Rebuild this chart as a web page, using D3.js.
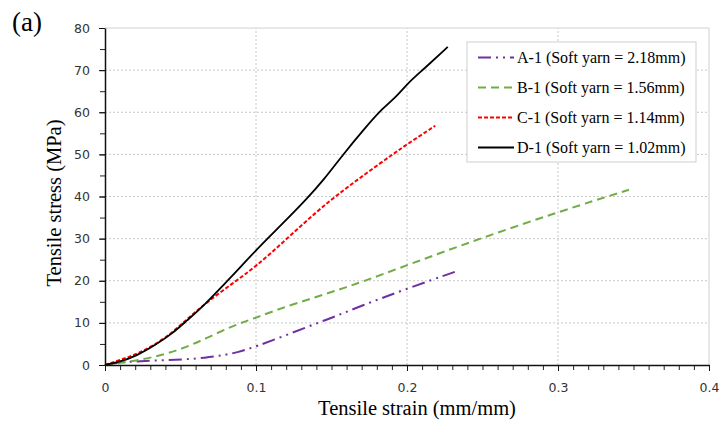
<!DOCTYPE html>
<html>
<head>
<meta charset="utf-8">
<script src="https://cdn.jsdelivr.net/npm/d3@7"></script>
<style>
  body { margin: 0; background: #fff; }
  svg { display: block; }
</style>
</head>
<body>
<script>
const w = 722;
const h = 423;
const margin = { top: 28, right: 12, bottom: 58, left: 105 };

// strain (mm/mm), stress (MPa)
const strainA = [0, 0.01, 0.03, 0.054, 0.066, 0.078, 0.088, 0.1, 0.118, 0.14, 0.151, 0.1685, 0.2005, 0.234];
const stressA = [0, 0.7, 1.0, 1.35, 1.7, 2.3, 3.0, 4.4, 6.8, 9.9, 11.3, 13.9, 18.2, 22.4];

const strainB = [0, 0.01, 0.03, 0.0496, 0.067, 0.085, 0.1, 0.118, 0.151, 0.1685, 0.2005, 0.2456, 0.3007, 0.347];
const stressB = [0, 0.5, 1.6, 3.6, 6.3, 9.4, 11.2, 13.7, 17.4, 19.5, 23.75, 29.7, 36.4, 41.6];

const strainC = [0, 0.01, 0.023, 0.041, 0.054, 0.067, 0.085, 0.1, 0.12, 0.14, 0.1575, 0.173, 0.1905, 0.2005, 0.2187];
const stressC = [0, 1.2, 2.8, 6.5, 10.8, 14.8, 19.5, 23.4, 29.8, 36.4, 41.4, 45.5, 50.0, 52.5, 56.8];

const strainD = [0, 0.01, 0.02, 0.034, 0.045, 0.054, 0.065, 0.085, 0.1, 0.118, 0.133, 0.145, 0.1575, 0.173, 0.184, 0.193, 0.2005, 0.21, 0.227];
const stressD = [0, 0.8, 2.0, 4.9, 7.6, 10.5, 13.9, 21.4, 27.3, 33.7, 39.2, 44.0, 49.9, 56.6, 61.0, 63.7, 66.9, 69.9, 75.5];

const seriesNames = [
	"A-1 (Soft yarn = 2.18mm)",
	"B-1 (Soft yarn = 1.56mm)",
	"C-1 (Soft yarn = 1.14mm)",
	"D-1 (Soft yarn = 1.02mm)"
];
const xTicks = [0, 0.1, 0.2, 0.3, 0.4];
const yTicks = [0, 10, 20, 30, 40, 50, 60, 70, 80];

const series = [
	{ name: seriesNames[0], x: strainA, y: stressA, color: "#7030a0", dash: "13,5,2,5,2,5", width: 2 },
	{ name: seriesNames[1], x: strainB, y: stressB, color: "#70ad47", dash: "8,5", width: 2 },
	{ name: seriesNames[2], x: strainC, y: stressC, color: "#ff0000", dash: "4,2", width: 2 },
	{ name: seriesNames[3], x: strainD, y: stressD, color: "#000000", dash: null, width: 1.8 }
];

const xScale = d3.scaleLinear().domain([0, 0.4]).range([margin.left, w - margin.right - 1]);
const yScale = d3.scaleLinear().domain([0, 80]).range([h - margin.bottom, margin.top]);

const svg = d3.select("body").append("svg").attr("width", w).attr("height", h);

// grid
svg.append("g")
	.selectAll("line")
	.data(xTicks.slice(1, -1))
	.join("line")
	.attr("x1", (d) => xScale(d)).attr("x2", (d) => xScale(d))
	.attr("y1", yScale(0)).attr("y2", yScale(80))
	.attr("stroke", "#c8c8c8").attr("stroke-dasharray", "2,2");

svg.append("g")
	.selectAll("line")
	.data(yTicks.slice(1, -1))
	.join("line")
	.attr("x1", xScale(0)).attr("x2", xScale(0.4))
	.attr("y1", (d) => yScale(d)).attr("y2", (d) => yScale(d))
	.attr("stroke", "#c8c8c8").attr("stroke-dasharray", "2,2");

// top / right frame
svg.append("path")
	.attr("d", `M${xScale(0)},${yScale(80)}H${xScale(0.4)}V${yScale(0)}`)
	.attr("fill", "none")
	.attr("stroke", "#d0d0d0");

// curves
const line = d3.line()
	.x((d) => xScale(d[0]))
	.y((d) => yScale(d[1]))
	.curve(d3.curveBasis);

series.forEach((s) => {
	svg.append("path")
		.datum(s.x.map((v, i) => [v, s.y[i]]))
		.attr("fill", "none")
		.attr("stroke", s.color)
		.attr("stroke-width", s.width)
		.attr("stroke-dasharray", s.dash)
		.attr("d", line);
});

// minor ticks
svg.append("g")
	.attr("transform", `translate(0, ${yScale(0)})`)
	.call(d3.axisBottom(xScale).tickValues(d3.range(0, 0.401, 0.01)).tickSize(5).tickFormat(""))
	.call((g) => g.select(".domain").remove())
	.selectAll("line").attr("stroke", "#222");

svg.append("g")
	.attr("transform", `translate(${xScale(0)}, 0)`)
	.call(d3.axisLeft(yScale).tickValues(d3.range(0, 81, 5)).tickSize(5).tickFormat(""))
	.call((g) => g.select(".domain").remove())
	.selectAll("line").attr("stroke", "#222");

// major axes
const xAxis = svg.append("g")
	.attr("transform", `translate(0, ${yScale(0)})`)
	.call(d3.axisBottom(xScale).tickValues(xTicks).tickSize(6).tickSizeOuter(0).tickPadding(12).tickFormat((d) => d === 0 ? "0" : d3.format(".1f")(d)));

const yAxis = svg.append("g")
	.attr("transform", `translate(${xScale(0)}, 0)`)
	.call(d3.axisLeft(yScale).tickValues(yTicks).tickSize(6).tickSizeOuter(0).tickPadding(9));

[xAxis, yAxis].forEach((g) => {
	g.select(".domain").attr("stroke", "#111").attr("stroke-width", 1.5);
	g.selectAll(".tick line").attr("stroke", "#111");
	g.selectAll("text")
		.attr("fill", "#333")
		.style("font-family", "'DejaVu Sans', Verdana, sans-serif")
		.style("font-size", "12.5px");
});

// axis titles
svg.append("text")
	.attr("x", 417)
	.attr("y", 415)
	.attr("text-anchor", "middle")
	.style("font-family", "'Liberation Serif', 'Times New Roman', serif")
	.style("font-size", "20.5px")
	.text("Tensile strain (mm/mm)");

svg.append("text")
	.attr("transform", "rotate(-90)")
	.attr("x", -203)
	.attr("y", 61)
	.attr("text-anchor", "middle")
	.style("font-family", "'Liberation Serif', 'Times New Roman', serif")
	.style("font-size", "20.5px")
	.text("Tensile stress (MPa)");

svg.append("text")
	.attr("x", 12)
	.attr("y", 31)
	.style("font-family", "'Liberation Serif', 'Times New Roman', serif")
	.style("font-size", "27px")
	.text("(a)");

// legend
const legend = svg.append("g").attr("transform", "translate(467, 42)");
legend.append("rect")
	.attr("width", 229).attr("height", 120)
	.attr("fill", "#fff")
	.attr("stroke", "#cfcfcf");

series.forEach((s, i) => {
	const y = 15.5 + i * 30;
	legend.append("line")
		.attr("x1", 11).attr("x2", 47)
		.attr("y1", y).attr("y2", y)
		.attr("stroke", s.color)
		.attr("stroke-width", s.width)
		.attr("stroke-dasharray", s.dash);
	legend.append("text")
		.attr("x", 50)
		.attr("y", y + 5.5)
		.style("font-family", "'Liberation Serif', 'Times New Roman', serif")
		.style("font-size", "16px")
		.text(s.name);
});
</script>
</body>
</html>
